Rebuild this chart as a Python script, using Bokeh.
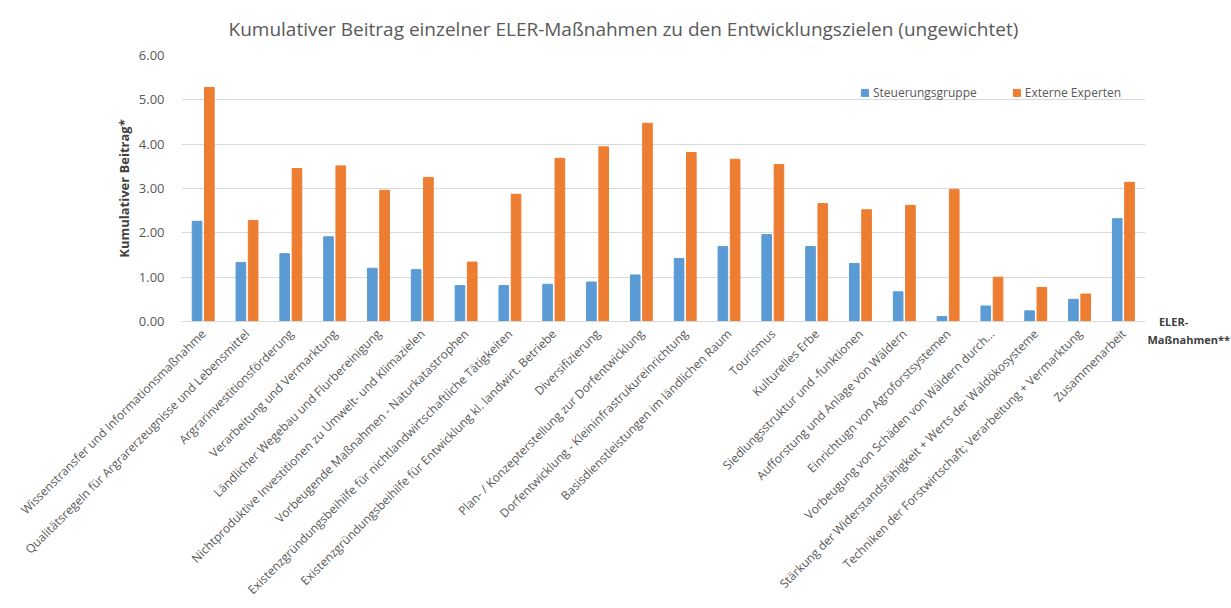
from math import pi
from bokeh.plotting import figure
from bokeh.models import (ColumnDataSource, FactorRange, Range1d, FixedTicker,
                          NumeralTickFormatter, Legend, LegendItem, LinearAxis)
from bokeh.transform import dodge
from bokeh.embed import file_html
from bokeh.resources import INLINE

categories = [
    "Wissenstransfer und Informationsmaßnahme",
    "Qualitätsregeln für Argrarerzeugnisse und Lebensmittel",
    "Argrarinvestitionsförderung",
    "Verarbeitung und Vermarktung",
    "Ländlicher Wegebau und Flurbereinigung",
    "Nichtproduktive Investitionen zu Umwelt- und Klimazielen",
    "Vorbeugende Maßnahmen - Naturkatastrophen",
    "Existenzgründungsbeihilfe für nichtlandwirtschaftliche Tätigkeiten",
    "Existenzgründungsbeihilfe für Entwicklung kl. landwirt. Betriebe",
    "Diversifizierung",
    "Plan- / Konzepterstellung zur Dorfentwicklung",
    "Dorfentwicklung - Kleininfrastrukureinrichtung",
    "Basisdienstleistungen im ländlichen Raum",
    "Tourismus",
    "Kulturelles Erbe",
    "Siedlungsstruktur und -funktionen",
    "Aufforstung und Anlage von Wäldern",
    "Einrichtugn von Agroforstsystemen",
    "Vorbeugung von Schäden von Wäldern durch...",
    "Stärkung der Widerstandsfähigkeit + Werts der Waldökosysteme",
    "Techniken der Forstwirtschaft; Verarbeitung + Vermarktung",
    "Zusammenarbeit",
]
steuerungsgruppe = [2.26, 1.33, 1.53, 1.91, 1.20, 1.17, 0.81, 0.81, 0.84, 0.89, 1.05,
                    1.42, 1.69, 1.96, 1.69, 1.31, 0.67, 0.11, 0.35, 0.24, 0.50, 2.32]
externe_experten = [5.28, 2.28, 3.45, 3.51, 2.96, 3.25, 1.34, 2.87, 3.68, 3.94, 4.47,
                    3.81, 3.66, 3.54, 2.66, 2.52, 2.62, 2.98, 1.00, 0.77, 0.62, 3.14]
y_ticks = [0, 1, 2, 3, 4, 5, 6]
x_axis_title = "\u00a0\u00a0\u00a0\u00a0ELER-\nMaßnahmen**"

FONT = "Open Sans"
GREY = "#595959"

src = ColumnDataSource(dict(cat=categories, s=steuerungsgruppe, e=externe_experten))

p = figure(x_range=FactorRange(*categories), y_range=Range1d(0, 6),
           frame_width=964, frame_height=266,
           min_border_left=181, min_border_right=0, min_border_top=54, min_border_bottom=280,
           output_backend="svg", toolbar_location=None,
           title="Kumulativer Beitrag einzelner  ELER-Maßnahmen zu den Entwicklungszielen (ungewichtet)")

p.title.text_font = FONT
p.title.text_font_size = "19px"
p.title.text_font_style = "normal"
p.title.text_color = GREY
p.title.align = "left"
p.title.offset = 47
p.title.standoff = 27

r1 = p.vbar(x=dodge("cat", -0.145, range=p.x_range), top="s", width=0.22, source=src,
            fill_color="#5B9BD5", line_color="#5B9BD5")
r2 = p.vbar(x=dodge("cat", 0.135, range=p.x_range), top="e", width=0.22, source=src,
            fill_color="#ED7D31", line_color="#ED7D31")

p.outline_line_color = None
p.xgrid.grid_line_color = None
p.ygrid.grid_line_color = "#d9d9d9"

p.yaxis.ticker = FixedTicker(ticks=y_ticks)
p.yaxis.formatter = NumeralTickFormatter(format="0.00")
p.yaxis.axis_line_color = None
p.yaxis.major_tick_line_color = None
p.yaxis.minor_tick_line_color = None
p.yaxis.major_label_text_font = FONT
p.yaxis.major_label_text_font_size = "13px"
p.yaxis.major_label_text_color = GREY
p.yaxis.major_label_standoff = 11
p.yaxis.axis_label = "Kumulativer Beitrag*"
p.yaxis.axis_label_text_font = FONT
p.yaxis.axis_label_text_font_size = "13px"
p.yaxis.axis_label_text_font_style = "bold"
p.yaxis.axis_label_text_color = "#404040"
p.yaxis.axis_label_standoff = 3

p.xaxis.axis_line_color = "#d9d9d9"
p.xaxis.major_tick_line_color = None
p.xaxis.minor_tick_line_color = None
p.xaxis.major_label_orientation = pi / 4
p.xaxis.major_label_text_font = FONT
p.xaxis.major_label_text_font_size = "12px"
p.xaxis.major_label_text_color = GREY
p.xaxis.major_label_standoff = 4

# right-hand helper axis carrying the x-axis title next to the axis end
p.extra_y_ranges = {"eler": Range1d(0, 6)}
eler_axis = LinearAxis(y_range_name="eler", ticker=FixedTicker(ticks=[0]),
                       major_label_overrides={0: "\n" + x_axis_title},
                       axis_line_color=None, major_tick_line_color=None,
                       minor_tick_line_color=None, major_label_standoff=-4,
                       major_label_text_font=FONT, major_label_text_font_size="11px",
                       major_label_text_font_style="bold", major_label_text_color="#404040")
p.add_layout(eler_axis, "right")

legend = Legend(items=[LegendItem(label="Steuerungsgruppe", renderers=[r1]),
                       LegendItem(label="Externe Experten", renderers=[r2])],
                location=(679, 220), orientation="horizontal",
                glyph_width=9, glyph_height=9, label_standoff=4, spacing=35,
                padding=0, margin=0, border_line_color=None, background_fill_alpha=0,
                label_text_font=FONT, label_text_font_size="12px", label_text_color=GREY,
                label_height=16)
p.add_layout(legend)

open("out.html", "w").write(file_html(p, INLINE))
